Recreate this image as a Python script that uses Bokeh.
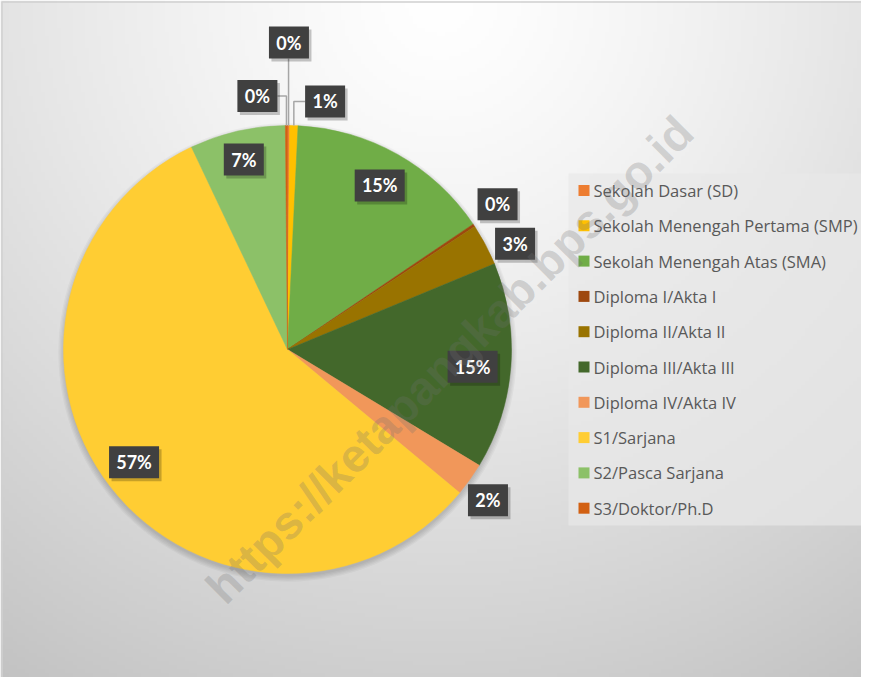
import numpy as np
from bokeh.plotting import figure
from bokeh.models import Range1d, ColumnDataSource
from bokeh.core.properties import value
from bokeh.embed import file_html
from bokeh.resources import INLINE

# ---------------- data ----------------
categories = [
    "Sekolah Dasar (SD)",
    "Sekolah Menengah Pertama (SMP)",
    "Sekolah Menengah Atas (SMA)",
    "Diploma I/Akta I",
    "Diploma II/Akta II",
    "Diploma III/Akta III",
    "Diploma IV/Akta IV",
    "S1/Sarjana",
    "S2/Pasca Sarjana",
    "S3/Doktor/Ph.D",
]
shares = [0.15, 0.6, 14.8, 0.2, 3.0, 14.9, 2.4, 56.9, 6.9, 0.15]
colors = ["#ED7D31", "#FFC000", "#70AD47", "#9E480E", "#997300",
          "#43682B", "#F1975A", "#FFCD33", "#8CC168", "#D26012"]

# ---------------- layout (not data) ----------------
W, H = 877, 693
FW, FH = 861, 677
CX, CY, R = 287, 349, 224          # pie centre / radius in reference pixels
label_rf = [1.37, 1.12, 0.84, 1.14, 1.12, 0.83, 1.12, 0.85, 0.87, 1.14]
label_dang = [0, -7, 0, 1, -3, -1, -1.5, -1.5, 0, 6.5]
leader = [True, True, False, False, False, False, False, False, False, True]


def Y(v):
    return H - v


p = figure(width=FW, height=FH, x_range=Range1d(0, FW), y_range=Range1d(H - FH, H),
           output_backend="svg", toolbar_location=None, min_border=0)
p.axis.visible = False
p.grid.visible = False
p.outline_line_color = None
p.border_fill_color = "white"
p.background_fill_color = "white"

# background radial gradient
gw, gh = 219, 173
gx = (np.arange(gw) + 0.5) * W / gw
gy = H - (np.arange(gh) + 0.5) * H / gh
GX, GY = np.meshgrid(gx, gy)
d = np.sqrt((GX - 440) ** 2 + (GY - 0) ** 2)
v = np.clip(255 - 62 * (d / 821) ** 1.3, 0, 255).astype(np.uint8)
img = np.empty((gh, gw), dtype=np.uint32)
view = img.view(dtype=np.uint8).reshape((gh, gw, 4))
view[:, :, 0] = v
view[:, :, 1] = v
view[:, :, 2] = v
view[:, :, 3] = 255
p.image_rgba(image=[img], x=0, y=0, dw=W, dh=H)

# chart border
p.rect(x=W / 2, y=H / 2, width=W - 3, height=H - 3, fill_color=None,
       line_color="#d0d0d0", line_width=1.5)

# pie shadow
for k in range(5):
    p.circle(x=CX, y=Y(CY) - 3, radius=R + k * 1.3, fill_color="black",
             fill_alpha=0.035, line_color=None)

# wedges
fr = np.array(shares) / sum(shares)
cum = np.concatenate([[0], np.cumsum(fr)])
start = np.pi / 2 - 2 * np.pi * cum[:-1]
end = np.pi / 2 - 2 * np.pi * cum[1:]
src = ColumnDataSource(dict(start=start, end=end, color=colors, cat=categories))
p.wedge(x=CX, y=Y(CY), radius=R, start_angle="start", end_angle="end",
        direction="clock", fill_color="color", line_color="color", line_width=0.5,
        source=src)

# data labels
mid = (start + end) / 2
labels = [f"{round(s)}%" for s in shares]
lx, ly, bw = [], [], []
lead_xs, lead_ys = [], []
for i, m in enumerate(mid):
    a = m + np.radians(label_dang[i])
    rr = R * label_rf[i]
    x = CX + rr * np.cos(a)
    yref = CY - rr * np.sin(a)
    w = 40 if len(labels[i]) <= 2 else 50
    lx.append(x)
    ly.append(Y(yref))
    bw.append(w)
    if leader[i]:
        ex = CX + R * np.cos(m)
        ey = CY - R * np.sin(m)
        if x - w / 2 <= ex <= x + w / 2:
            lead_xs.append([ex, ex])
            lead_ys.append([Y(yref + 16), Y(ey)])
        else:
            sx = x + w / 2 if ex > x else x - w / 2
            lead_xs.append([sx, ex, ex])
            lead_ys.append([Y(yref), Y(yref), Y(ey)])

p.multi_line(xs=lead_xs, ys=lead_ys, line_color="#a6a6a6", line_width=1.5)
p.rect(x=[a + 2.5 for a in lx], y=[b - 3 for b in ly], width=bw, height=32,
       fill_color="black", fill_alpha=0.22, line_color=None)
p.rect(x=lx, y=ly, width=bw, height=32, fill_color="#404040", line_color=None)
p.text(x=lx, y=ly, text=labels, text_font=value("Lato"), text_font_style="bold",
       text_font_size="18px", text_color="white", text_align="center",
       text_baseline="middle")

# legend
p.rect(x=(568 + 866) / 2, y=Y((173 + 525) / 2), width=298, height=352,
       fill_color="#e8e8e8", fill_alpha=0.7, line_color=None)
ly_leg = [Y(190 + i * 35.3) for i in range(len(categories))]
p.rect(x=[583.5] * len(categories), y=ly_leg, width=11, height=11,
       fill_color=colors, line_color=None)
p.text(x=[593] * len(categories), y=ly_leg, text=categories,
       text_font=value("Open Sans"), text_font_size="16.5px", text_color="#595959",
       text_align="left", text_baseline="middle")

# watermark
p.text(x=[449], y=[Y(359)], text=["https://ketapangkab.bps.go.id"], angle=np.pi / 4,
       text_font=value("Liberation Sans"), text_font_style="bold",
       text_font_size="47px", text_color="#707070", text_alpha=0.26,
       text_align="center", text_baseline="middle")

open("out.html", "w").write(file_html(p, INLINE))
